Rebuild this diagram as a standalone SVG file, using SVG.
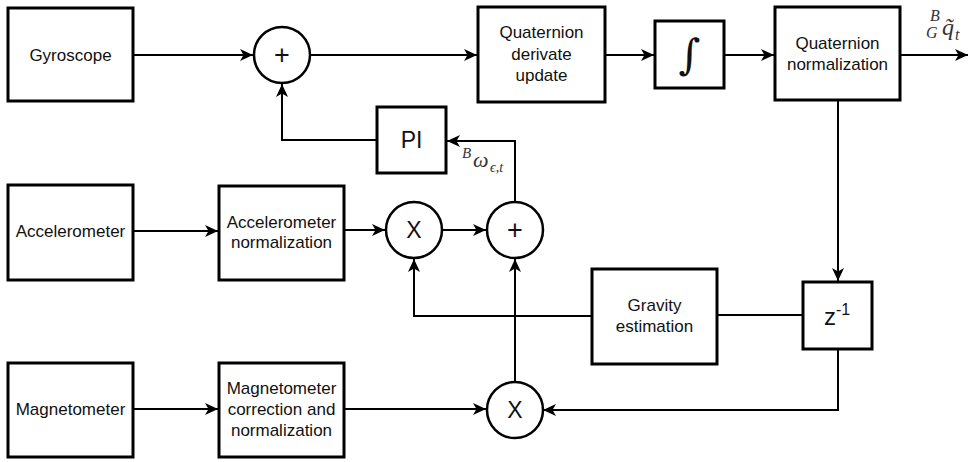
<svg xmlns="http://www.w3.org/2000/svg" width="969" height="462" viewBox="0 0 969 462">
<style>
.box{fill:#fff;stroke:#000;stroke-width:3}
.circ{fill:#fff;stroke:#000;stroke-width:2.5}
.lbl{font-family:"Liberation Sans",Arial,sans-serif;font-size:17px;fill:#111;text-anchor:middle}
.sym{font-family:"Liberation Sans",Arial,sans-serif;font-size:23px;fill:#111;text-anchor:middle}
.plus{font-family:"Liberation Sans",Arial,sans-serif;font-size:27px;fill:#111;text-anchor:middle}
.con{fill:none;stroke:#000;stroke-width:2}
.math{font-family:"Liberation Serif","Times New Roman",serif;font-style:italic;fill:#333}
</style>
<defs>
<marker id="arr" markerUnits="userSpaceOnUse" markerWidth="14" markerHeight="12" refX="13" refY="6" orient="auto">
<path d="M0,0 L13,6 L0,12 L3.5,6 z" fill="#000"/>
</marker>
</defs>
<g id="connectors">
<path class="con" d="M133,55 H253" marker-end="url(#arr)"/>
<path class="con" d="M310,55 H477" marker-end="url(#arr)"/>
<path class="con" d="M605,55 H654" marker-end="url(#arr)"/>
<path class="con" d="M724,55 H774" marker-end="url(#arr)"/>
<path class="con" d="M900,55 H968" marker-end="url(#arr)"/>
<path class="con" d="M838,100 V281" marker-end="url(#arr)"/>
<path class="con" d="M838,349 V410 H543" marker-end="url(#arr)"/>
<path class="con" d="M803,315 H717"/>
<path class="con" d="M592,316 H414 V259" marker-end="url(#arr)"/>
<path class="con" d="M133,231 H218" marker-end="url(#arr)"/>
<path class="con" d="M344,230 H385" marker-end="url(#arr)"/>
<path class="con" d="M442,230 H486" marker-end="url(#arr)"/>
<path class="con" d="M515,382 V259" marker-end="url(#arr)"/>
<path class="con" d="M515,202 V141 H447" marker-end="url(#arr)"/>
<path class="con" d="M377,140 H282 V84" marker-end="url(#arr)"/>
<path class="con" d="M133,409 H218" marker-end="url(#arr)"/>
<path class="con" d="M344,409 H486" marker-end="url(#arr)"/>
<text class="math" x="462" y="158" font-size="15">B</text>
<text class="math" x="473" y="167" font-size="22">ω</text>
<text class="math" x="490" y="172" font-size="14">ϵ,t</text>
<text class="math" x="930" y="21" font-size="16">B</text>
<text class="math" x="926" y="38" font-size="16">G</text>
<text class="math" x="942" y="35" font-size="24">q̃</text>
<text class="math" x="955" y="40" font-size="16">t</text>
</g>
<g id="gyroscope"><rect class="box" x="8" y="8" width="125" height="93"/><text class="lbl" x="70.5" y="61">Gyroscope</text></g>
<g id="sum1"><circle class="circ" cx="282" cy="55" r="28"/><text class="plus" x="282" y="64">+</text></g>
<g id="quat-derivate"><rect class="box" x="478" y="7" width="127" height="95"/><text class="lbl" x="541.5" y="38">Quaternion</text><text class="lbl" x="541.5" y="60">derivate</text><text class="lbl" x="541.5" y="81">update</text></g>
<g id="integral"><rect class="box" x="655" y="21" width="69" height="67"/><text x="689.5" y="69" font-family="'DejaVu Serif',serif" font-style="italic" font-size="42" text-anchor="middle" fill="#111">∫</text></g>
<g id="quat-norm"><rect class="box" x="775" y="7" width="125" height="93"/><text class="lbl" x="837.5" y="49">Quaternion</text><text class="lbl" x="837.5" y="70">normalization</text></g>
<g id="pi"><rect class="box" x="377" y="107" width="69" height="66"/><text class="sym" x="411.5" y="148">PI</text></g>
<g id="accelerometer"><rect class="box" x="8" y="185" width="125" height="95"/><text class="lbl" x="70.5" y="237">Accelerometer</text></g>
<g id="acc-norm"><rect class="box" x="219" y="186" width="125" height="94"/><text class="lbl" x="281.5" y="228">Accelerometer</text><text class="lbl" x="281.5" y="248">normalization</text></g>
<g id="mult1"><circle class="circ" cx="414" cy="230" r="28"/><text class="sym" x="414" y="238">X</text></g>
<g id="sum2"><circle class="circ" cx="515" cy="230" r="28"/><text class="plus" x="515" y="239">+</text></g>
<g id="gravity"><rect class="box" x="592" y="269" width="125" height="95"/><text class="lbl" x="654.5" y="311">Gravity</text><text class="lbl" x="654.5" y="332">estimation</text></g>
<g id="zinv"><rect class="box" x="803" y="282" width="69" height="67"/><text x="837" y="325" font-family="'Liberation Sans',Arial,sans-serif" font-size="24" fill="#111" text-anchor="middle">z<tspan font-size="16" dy="-10">-1</tspan></text></g>
<g id="magnetometer"><rect class="box" x="8" y="363" width="125" height="94"/><text class="lbl" x="70.5" y="415">Magnetometer</text></g>
<g id="mag-norm"><rect class="box" x="219" y="363" width="125" height="94"/><text class="lbl" x="281.5" y="394">Magnetometer</text><text class="lbl" x="281.5" y="415">correction and</text><text class="lbl" x="281.5" y="436">normalization</text></g>
<g id="mult2"><circle class="circ" cx="515" cy="410" r="28"/><text class="sym" x="515" y="418">X</text></g>
</svg>
